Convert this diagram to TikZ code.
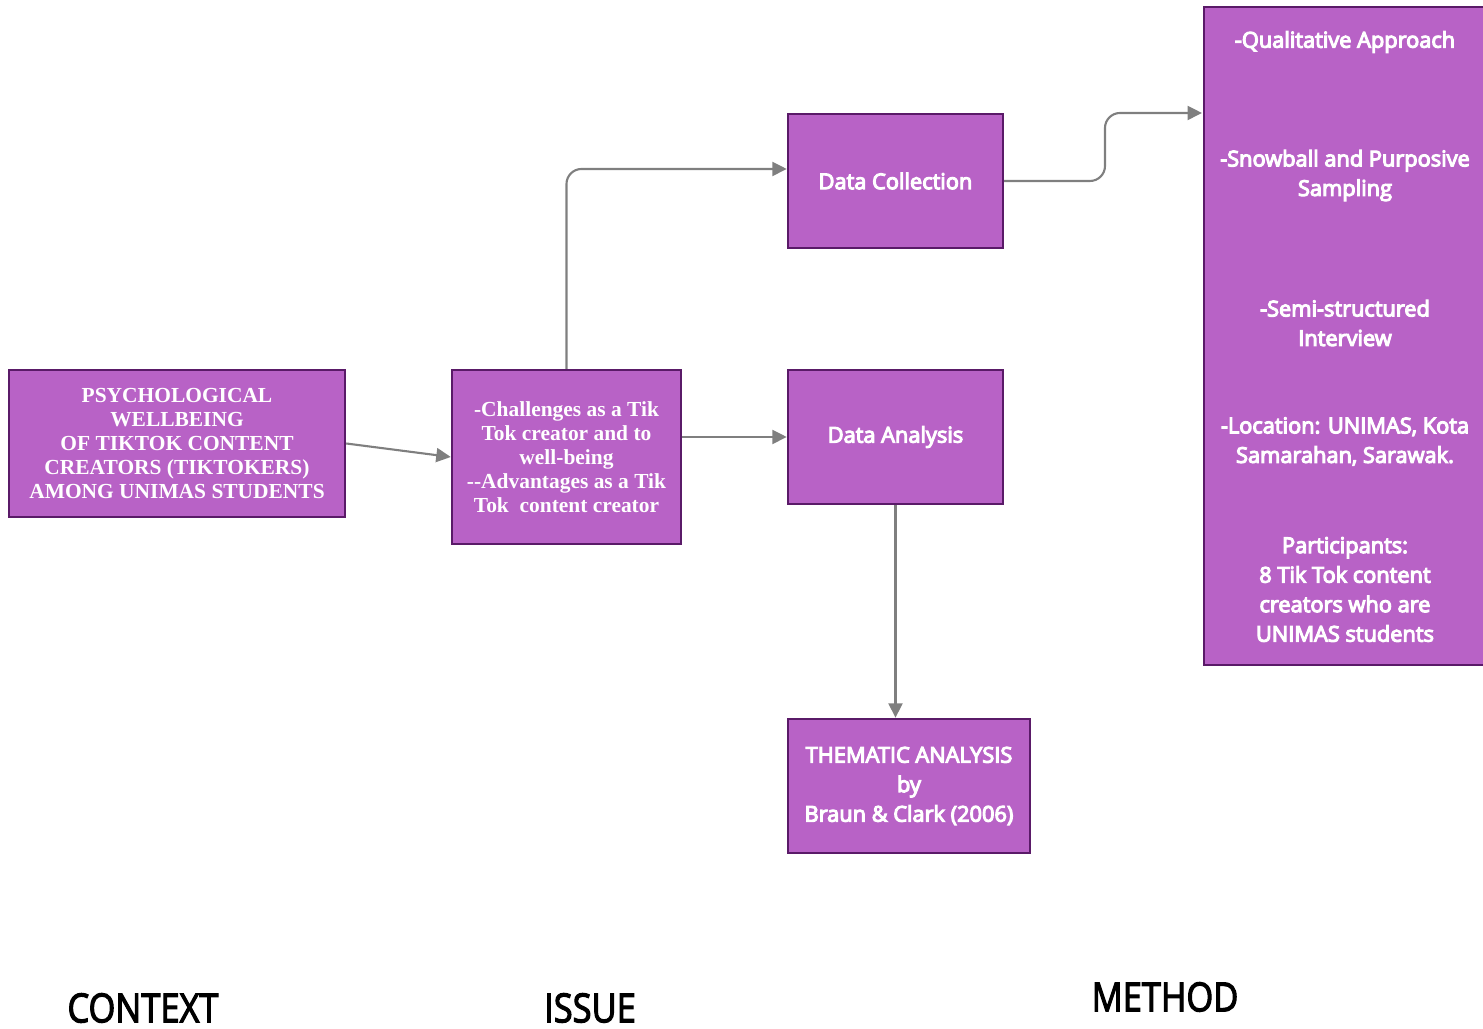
\documentclass[tikz,border=0pt]{standalone}
\usepackage{fontspec}
\setmainfont{Open Sans}
\newfontface\boxsans{Open Sans}[FakeBold=5]
\newfontface\labelsans{Open Sans}[FakeBold=3]
\newfontfamily\titleserif{Liberation Serif}
\usetikzlibrary{arrows.meta}

\definecolor{boxfill}{HTML}{B862C6}
\definecolor{boxline}{HTML}{5A1A68}
\definecolor{flowgray}{HTML}{7F7F7F}

\newcommand{\colname}[3]{
\node[inner sep=0pt, font=\labelsans\fontsize{11.4}{14}\selectfont] (#1) at (#2) {\scalebox{0.86}[1]{#3}};
}
\newcommand{\methoditem}[3]{
\node[itemtext] (#1) at (13.45, #2) {#3};
}

\begin{document}
\begin{tikzpicture}[
  box/.style={draw=boxline, line width=0.7pt, fill=boxfill, text=white,
    inner sep=0pt, align=center, font=\boxsans\fontsize{6.2}{8.4}\selectfont},
  serifbox/.style={box, font=\titleserif\bfseries\fontsize{6.1}{6.85}\selectfont},
  itemtext/.style={text=white, align=center, inner sep=0pt,
    font=\boxsans\fontsize{6.2}{8.4}\selectfont},
  flow/.style={draw=flowgray, line width=0.6pt,
    -{Triangle[length=1.45mm, width=1.4mm]}}]
\useasboundingbox (0,0) rectangle (14.83,-10.29);

\node[serifbox, minimum width=3.36cm, minimum height=1.47cm] (context) at (1.77,-4.435)
  {PSYCHOLOGICAL\\ WELLBEING\\ OF TIKTOK CONTENT\\ CREATORS (TIKTOKERS)\\ AMONG UNIMAS STUDENTS};
\node[serifbox, minimum width=2.29cm, minimum height=1.74cm] (issue) at (5.665,-4.57)
  {-Challenges as a Tik\\ Tok creator and to\\ well-being\\ -{}-Advantages as a Tik\\ Tok\ \ content creator};
\node[box, minimum width=2.15cm, minimum height=1.34cm] (collect) at (8.955,-1.81) {Data Collection};
\node[box, minimum width=2.15cm, minimum height=1.34cm] (analysis) at (8.955,-4.37) {Data Analysis};
\node[box, minimum width=2.42cm, minimum height=1.34cm] (thematic) at (9.09,-7.86)
  {THEMATIC ANALYSIS\\ by\\ Braun \& Clark (2006)};

% method column
\node[box, minimum width=2.82cm, minimum height=6.58cm] (method) at (13.45,-3.36) {};
\methoditem{approach}{-0.42}{-Qualitative Approach}
\methoditem{sampling}{-1.755}{-Snowball and Purposive\\ Sampling}
\methoditem{interview}{-3.23}{-Semi-structured\\ Interview}
\methoditem{location}{-4.415}{-Location: UNIMAS, Kota\\ Samarahan, Sarawak.}
\methoditem{participants}{-5.895}{Participants:\\ 8 Tik Tok content\\ creators who are\\ UNIMAS students}

% connectors
\coordinate (methodin) at (12.02,-1.13);
\draw[flow] (context.east) -- (issue.west);
\draw[flow, rounded corners=1.5mm] (issue.north) |- ([yshift=1.2mm]collect.west);
\draw[flow] (issue.east |- analysis.west) -- (analysis.west);
\draw[flow] (analysis.south) -- (analysis.south |- thematic.north);
\draw[flow, rounded corners=1.5mm] (collect.east) -- (11.05,-1.81) |- (methodin);

\colname{contextlabel}{1.43,-10.08}{CONTEXT}
\colname{issuelabel}{5.90,-10.08}{ISSUE}
\colname{methodlabel}{11.65,-9.97}{METHOD}
\end{tikzpicture}
\end{document}
